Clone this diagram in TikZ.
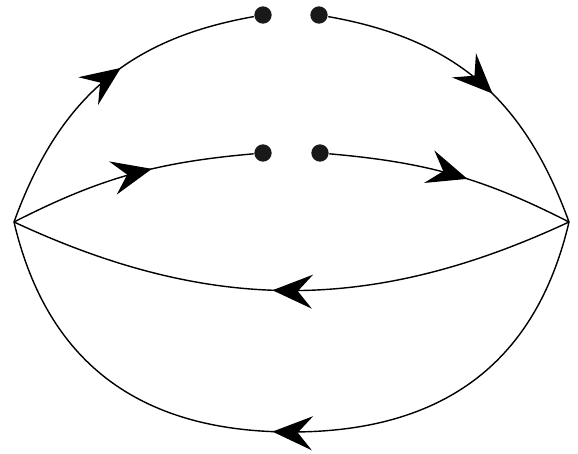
\documentclass[tikz,border=0pt]{standalone}
\usetikzlibrary{arrows.meta, decorations.markings}

\begin{document}
\begin{tikzpicture}[
    x=0.03cm, y=0.03cm,
    line width=1.2pt
]

    % Styles for the dots and the mid-path arrows
    \tikzset{
        dot/.style={circle, fill=black!90, inner sep=0pt, minimum size=0.52cm},
        flow/.style={postaction={decorate, decoration={markings,
            mark=at position #1 with {\arrow{Stealth[length=1.2cm, width=1.02cm, inset=0.44cm]}}}}}
    }

    \useasboundingbox (0,0) rectangle (578,454);

    % Vertices
    \coordinate (L) at (14,232);
    \coordinate (R) at (569,232);

    % Broken ends
    \node[dot] (TL) at (263,439) {};
    \node[dot] (TR) at (319,439) {};
    \node[dot] (ML) at (263,301) {};
    \node[dot] (MR) at (320,301) {};

    % Upper outer arc
    \draw[flow=0.57] (L) to[out=70, in=190, looseness=1.05] (TL);
    \draw[flow=0.55] (TR) to[out=-10, in=110, looseness=1.05] (R);

    % Upper inner arc
    \draw[flow=0.59] (L) to[out=27, in=185] (ML);
    \draw[flow=0.56] (MR) to[out=-5, in=153] (R);

    % Lower inner arc
    \draw[flow=0.533] (R) to[out=-155, in=-25] (L);

    % Lower outer arc
    \draw[flow=0.525] (R) .. controls +(-30,-128) and +(165,0) .. (291.5,22)
        .. controls +(-165,0) and +(30,-128) .. (L);

\end{tikzpicture}
\end{document}
